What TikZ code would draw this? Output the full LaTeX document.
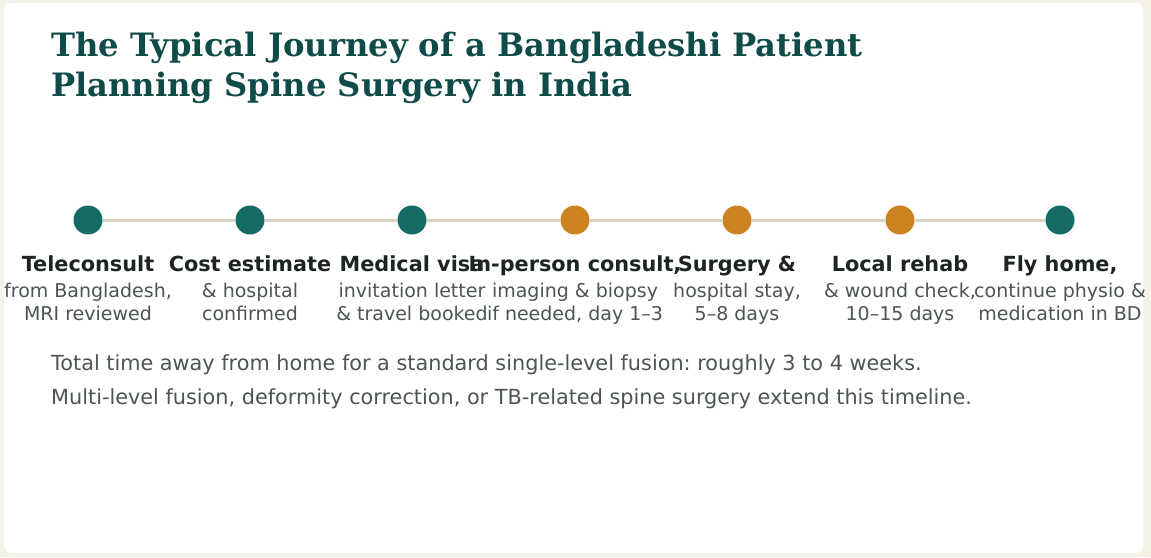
\documentclass[tikz,border=0pt]{standalone}
\usepackage{fontspec}
\setmainfont{DejaVu Sans}
\newfontfamily\headserif{DejaVu Serif}
\frenchspacing
\definecolor{pagebg}{HTML}{F5F2E8}
\definecolor{headink}{HTML}{0F4B49}
\definecolor{stepteal}{HTML}{146C64}
\definecolor{steporange}{HTML}{CB8322}
\definecolor{trackgray}{HTML}{D8D2C1}
\definecolor{labelink}{HTML}{1C2524}
\definecolor{noteink}{HTML}{4C5554}

\begin{document}
\begin{tikzpicture}[x=1pt,y=-1pt,
	headtext/.style={anchor=base west,inner sep=0,text=headink,font=\headserif\bfseries\fontsize{32.2}{38}\selectfont},
	dot/.style={circle,inner sep=0,minimum size=29},
	track/.style={draw=trackgray,line width=3},
	steplabel/.style={anchor=base,inner sep=0,text=labelink,font=\bfseries\fontsize{20.8}{24}\selectfont},
	stepnote/.style={anchor=base,inner sep=0,text=noteink,font=\fontsize{19}{23}\selectfont},
	footnote/.style={anchor=base west,inner sep=0,text=noteink,font=\fontsize{20.8}{25}\selectfont}]
		\useasboundingbox (0,0) rectangle (1151,557);
		\fill[pagebg] (0,0) rectangle (1151,557);
		\fill[white,rounded corners=7] (4,3) rectangle (1143,553);
		% title
		\node[headtext] (title1) at (51,56) {The Typical Journey of a Bangladeshi Patient};
		\node[headtext] (title2) at (51,96) {Planning Spine Surgery in India};
		% timeline stops
		\foreach \i/\x/\c in {1/88/stepteal,2/250/stepteal,3/412/stepteal,4/575/steporange,5/737/steporange,6/900/steporange,7/1060/stepteal}
			\node[dot,fill=\c] (s\i) at (\x,220) {};
		\foreach \i/\j in {1/2,2/3,3/4,4/5,5/6,6/7}
			\draw[track] (s\i) -- (s\j);
		% labels under the stops
		\foreach \i/\x/\t/\a/\b in {
			1/88/Teleconsult/{from Bangladesh,}/{MRI reviewed},
			2/250/Cost estimate/{\& hospital}/confirmed,
			3/412/Medical visa/invitation letter/{\& travel booked},
			4/575/{In-person consult,}/{imaging \& biopsy}/{if needed, day 1–3},
			5/737/{Surgery \&}/{hospital stay,}/{5–8 days},
			6/900/Local rehab/{\& wound check,}/{10–15 days},
			7/1060/{Fly home,}/{continue physio \&}/{medication in BD}}{
			\node[steplabel] (lab\i) at (\x,271) {\t};
			\node[stepnote] (noteA\i) at (\x,297) {\a};
			\node[stepnote] (noteB\i) at (\x,320) {\b};
		}
		% footnote
		\node[footnote] (foot1) at (51,370) {Total time away from home for a standard single-level fusion: roughly 3 to 4 weeks.};
		\node[footnote] (foot2) at (51,404) {Multi-level fusion, deformity correction, or TB-related spine surgery extend this timeline.};
	\end{tikzpicture}
\end{document}
